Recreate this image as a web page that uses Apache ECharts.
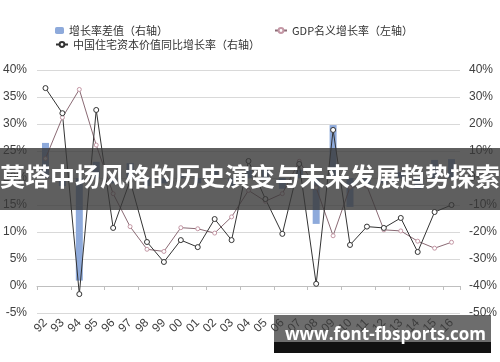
<!DOCTYPE html>
<html>
<head>
<meta charset="utf-8">
<script src="https://cdn.jsdelivr.net/npm/echarts@6/dist/echarts.min.js"></script>
<style>
  html, body { margin: 0; padding: 0; background: #fff; }
  #chart { width: 500px; height: 362px; }
</style>
</head>
<body>
<div id="chart"></div>
<script>
// 年份（横轴）
const years = ['92', '93', '94', '95', '96', '97', '98', '99', '00', '01', '02', '03', '04',
  '05', '06', '07', '08', '09', '10', '11', '12', '13', '14', '15', '16']

// 增长率差值（右轴）
const gapValues = [13.0, -3.0, -38.0, 6.0, -2.0, 5.5, -3.0, -2.0, 1.5, -2.0, 2.6, -3.0, 3.0,
  4.0, -4.0, 3.0, -17.0, 19.6, -10.7, -3.0, -2.0, 2.2, -4.0, 6.7, 7.0]

// GDP名义增长率（左轴）
const gdpValues = [23.6, 31.2, 36.4, 26.1, 17.1, 11.0, 6.8, 6.4, 10.8, 10.6, 9.8, 12.8, 17.7,
  15.7, 17.1, 23.1, 18.2, 9.3, 18.3, 18.5, 10.4, 10.2, 8.3, 7.0, 8.1]

// 中国住宅资本价值同比增长率（右轴）
const housingValues = [33.3, 24.0, -43.0, 25.2, -18.5, -1.0, -23.7, -31.1, -23.0, -25.6, -15.2, -23.0, 6.3,
  -7.8, -20.7, 5.2, -39.2, 17.8, -24.8, -18.0, -18.5, -14.8, -27.4, -12.6, -10.0]

const chart = echarts.init(document.getElementById('chart'), null, { renderer: 'canvas' })

const labelStyle = { color: '#404040', fontSize: 12, fontFamily: 'Liberation Sans, Arial, sans-serif' }
const legendText = { color: '#333', fontSize: 11, fontFamily: 'Noto Sans CJK SC' }

const option = {
  animation: false,
  backgroundColor: '#fff',
  grid: { left: 37, right: 40, top: 70, bottom: 49 },
  legend: [
    { data: ['增长率差值（右轴）'], left: 55, top: 25, itemWidth: 9, itemHeight: 7, itemGap: 2, textStyle: legendText, padding: 0 },
    { data: ['GDP名义增长率（左轴）'], left: 274, top: 25, itemWidth: 12, itemHeight: 6, textStyle: legendText, padding: 0 },
    { data: ['中国住宅资本价值同比增长率（右轴）'], left: 55, top: 39, itemWidth: 12, itemHeight: 6, textStyle: legendText, padding: 0 }
  ],
  xAxis: [
    {
      type: 'category',
      data: years,
      position: 'bottom',
      axisLine: { show: false, onZero: false },
      axisTick: { show: false },
      axisLabel: { ...labelStyle, rotate: 45, margin: 8, interval: 0 }
    },
    {
      // 0% 处的横轴线
      type: 'category',
      data: years,
      position: 'top',
      axisLine: { onZero: true, onZeroAxisIndex: 0, lineStyle: { color: '#bfbfbf', width: 1 } },
      axisTick: { show: true, inside: true, length: 4, lineStyle: { color: '#bfbfbf' } },
      axisLabel: { show: false }
    }
  ],
  yAxis: [
    {
      type: 'value',
      min: -5,
      max: 40,
      interval: 5,
      axisLine: { show: false },
      axisTick: { show: false },
      axisLabel: { ...labelStyle, margin: 10, formatter: '{value}%' },
      splitLine: { lineStyle: { color: '#d9d9d9', width: 1 } }
    },
    {
      type: 'value',
      min: -50,
      max: 40,
      interval: 10,
      axisLine: { show: false },
      axisTick: { show: false },
      axisLabel: { ...labelStyle, margin: 9, formatter: '{value}%' },
      splitLine: { show: false }
    }
  ],
  series: [
    {
      name: '增长率差值（右轴）',
      type: 'bar',
      xAxisIndex: 0,
      yAxisIndex: 1,
      data: gapValues,
      barWidth: 7,
      itemStyle: { color: '#8eaadb' }
    },
    {
      name: 'GDP名义增长率（左轴）',
      type: 'line',
      xAxisIndex: 0,
      yAxisIndex: 0,
      data: gdpValues,
      symbol: 'circle',
      symbolSize: 4,
      lineStyle: { color: '#8a6a74', width: 1 },
      itemStyle: { color: '#fff', borderColor: '#c497a5', borderWidth: 1 }
    },
    {
      name: '中国住宅资本价值同比增长率（右轴）',
      type: 'line',
      xAxisIndex: 0,
      yAxisIndex: 1,
      data: housingValues,
      symbol: 'circle',
      symbolSize: 5,
      lineStyle: { color: '#333', width: 1 },
      itemStyle: { color: '#fff', borderColor: '#333', borderWidth: 1 }
    }
  ],
  graphic: [
    // 标题横幅
    { type: 'rect', left: 0, top: 148, shape: { width: 500, height: 62 }, style: { fill: 'rgba(55,55,55,0.8)' }, z: 100 },
    {
      type: 'text', left: 'center', top: 164, z: 101,
      style: { text: '莫塔中场风格的历史演变与未来发展趋势探索', fill: '#fff', font: 'bold 25px "Noto Sans CJK SC"' }
    },
    // 水印
    { type: 'rect', left: 274, top: 315, shape: { width: 217, height: 27 }, style: { fill: 'rgba(60,60,60,0.75)' }, z: 100 },
    { type: 'rect', left: 274, top: 342, shape: { width: 217, height: 11 }, style: { fill: '#111' }, z: 100 },
    {
      type: 'text', left: 285, top: 327, z: 101,
      style: { text: 'www.font-fbsports.com', fill: '#fff', font: 'bold 17px "Open Sans"' }
    }
  ]
}

chart.setOption(option)
</script>
</body>
</html>
